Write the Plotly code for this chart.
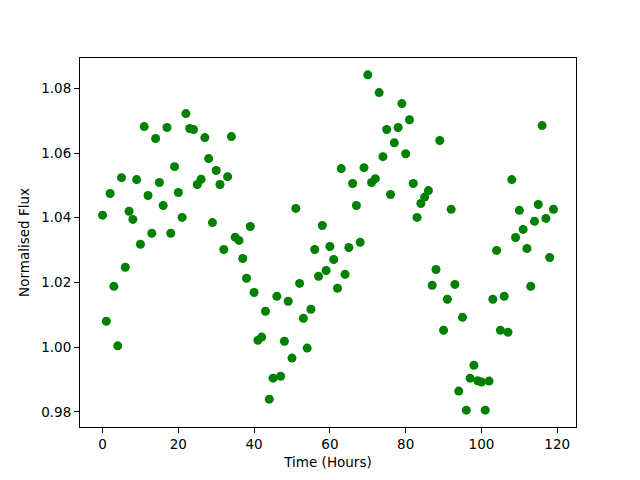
import plotly.graph_objects as go

time_hours = [
    0, 1, 2, 3, 4, 5, 6, 7, 8, 9, 10, 11, 12, 13, 14, 15, 16, 17, 18, 19,
    20, 21, 22, 23, 24, 25, 26, 27, 28, 29, 30, 31, 32, 33, 34, 35, 36, 37, 38, 39,
    40, 41, 42, 43, 44, 45, 46, 47, 48, 49, 50, 51, 52, 53, 54, 55, 56, 57, 58, 59,
    60, 61, 62, 63, 64, 65, 66, 67, 68, 69, 70, 71, 72, 73, 74, 75, 76, 77, 78, 79,
    80, 81, 82, 83, 84, 85, 86, 87, 88, 89, 90, 91, 92, 93, 94, 95, 96, 97, 98, 99,
    100, 101, 102, 103, 104, 105, 106, 107, 108, 109, 110, 111, 112, 113, 114, 115, 116, 117, 118, 119,
]

flux = [
    1.0408, 1.0080, 1.0475, 1.0188, 1.0004, 1.0524, 1.0247, 1.0420, 1.0395, 1.0518,
    1.0318, 1.0682, 1.0469, 1.0352, 1.0645, 1.0509, 1.0438, 1.0679, 1.0352, 1.0558,
    1.0478, 1.0401, 1.0722, 1.0676, 1.0673, 1.0503, 1.0519, 1.0648, 1.0583, 1.0385,
    1.0546, 1.0503, 1.0302, 1.0527, 1.0651, 1.0340, 1.0330, 1.0274, 1.0213, 1.0373,
    1.0169, 1.0021, 1.0031, 1.0111, 0.9839, 0.9904, 1.0157, 0.9910, 1.0018, 1.0142,
    0.9966, 1.0429, 1.0197, 1.0089, 0.9997, 1.0117, 1.0302, 1.0219, 1.0376, 1.0237,
    1.0311, 1.0271, 1.0182, 1.0552, 1.0225, 1.0308, 1.0506, 1.0438, 1.0324, 1.0555,
    1.0842, 1.0509, 1.0521, 1.0787, 1.0589, 1.0673, 1.0472, 1.0632, 1.0679, 1.0753,
    1.0598, 1.0703, 1.0506, 1.0401, 1.0444, 1.0464, 1.0484, 1.0191, 1.0240, 1.0639,
    1.0052, 1.0148, 1.0426, 1.0194, 0.9864, 1.0092, 0.9805, 0.9904, 0.9944, 0.9896,
    0.9892, 0.9805, 0.9895, 1.0148, 1.0299, 1.0052, 1.0157, 1.0046, 1.0518, 1.0339,
    1.0423, 1.0364, 1.0305, 1.0188, 1.0389, 1.0441, 1.0685, 1.0398, 1.0277, 1.0426,
]

x_title = "Time (Hours)"
y_title = "Normalised Flux"

fig = go.Figure()
fig.add_trace(go.Scatter(
    x=time_hours, y=flux, mode="markers",
    marker=dict(color="#008000", size=9, line=dict(width=0)),
    showlegend=False,
))

axis_common = dict(
    showline=True, linecolor="black", linewidth=1.1, mirror=True,
    ticks="outside", ticklen=5, tickwidth=1.1, tickcolor="black",
    showgrid=False, zeroline=False, automargin=False,
    tickfont=dict(family="DejaVu Sans", size=13.5, color="black"),
)

# page body has an 8px default margin, so the figure is sized to fit the window
fig.update_layout(
    width=632, height=472,
    paper_bgcolor="white", plot_bgcolor="white",
    margin=dict(l=72, r=64, t=50, b=53),
    font=dict(family="DejaVu Sans", size=13.5, color="black"),
    xaxis=dict(range=[-5.95, 124.95], tick0=0, dtick=20,
               title=dict(text=x_title, standoff=6, font=dict(size=13.5)),
               **axis_common),
    yaxis=dict(range=[0.9753, 1.0894], tick0=0.98, dtick=0.02, tickformat=".2f",
               title=dict(text=y_title, standoff=8, font=dict(size=13.5)),
               **axis_common),
)

fig.write_html("out.html")
